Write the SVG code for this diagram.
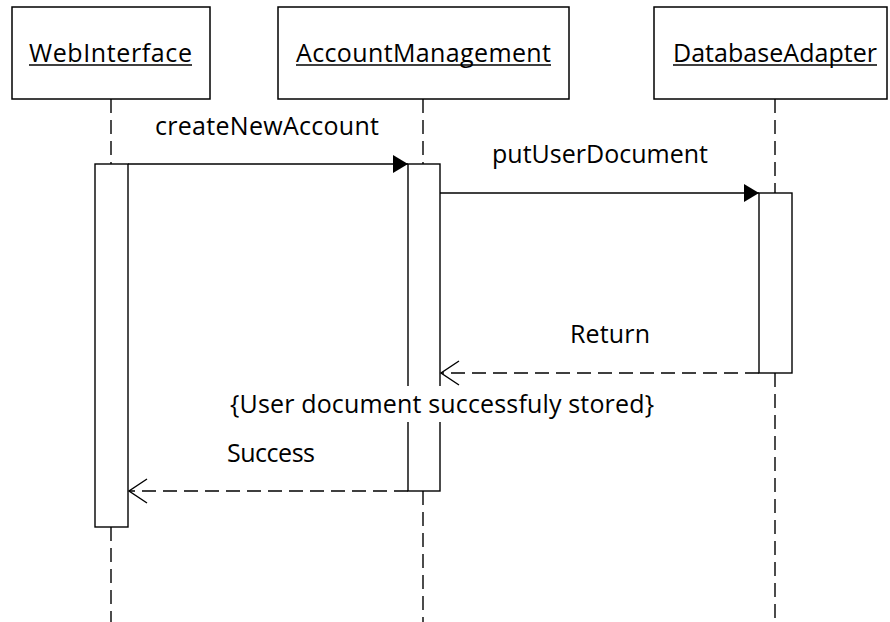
<svg xmlns="http://www.w3.org/2000/svg" width="890" height="622" viewBox="0 0 890 622">
<style>
.box{fill:#fff;stroke:#000;stroke-width:1.5}
.bar{fill:#fff;stroke:#000;stroke-width:1.4}
.life{stroke:#000;stroke-width:1.4;stroke-dasharray:14 7;fill:none}
.msg{stroke:#000;stroke-width:1.4;fill:none}
.ret{stroke:#000;stroke-width:1.4;fill:none;stroke-dasharray:14 7}
.ul{stroke:#000;stroke-width:1.5}
text{font-family:"Open Sans","Noto Sans","Liberation Sans",sans-serif;font-size:25px;fill:#000}
</style>
<defs>
<marker id="filled" markerUnits="userSpaceOnUse" markerWidth="16" markerHeight="20" refX="15" refY="9" orient="auto">
<path d="M0,0 L15,9 L0,18 Z" fill="#000"/>
</marker>
<marker id="open" markerUnits="userSpaceOnUse" markerWidth="22" markerHeight="28" refX="19" refY="13" orient="auto">
<path d="M1,1 L19,13 L1,25" fill="none" stroke="#000" stroke-width="1.4"/>
</marker>
</defs>
<rect width="890" height="622" fill="#fff"/>
<g id="lifelines">
<line class="life" x1="111" y1="99" x2="111" y2="164"/>
<line class="life" x1="111" y1="527" x2="111" y2="622"/>
<line class="life" x1="423" y1="99" x2="423" y2="164"/>
<line class="life" x1="423" y1="491" x2="423" y2="622"/>
<line class="life" x1="775" y1="99" x2="775" y2="193"/>
<line class="life" x1="775" y1="373" x2="775" y2="622"/>
</g>
<g id="WebInterface">
<rect class="box" x="12" y="7" width="198" height="92"/>
<text x="29" y="62" textLength="163">WebInterface</text>
<line class="ul" x1="29" y1="65" x2="192" y2="65"/>
<rect class="bar" x="95" y="164" width="33" height="363"/>
</g>
<g id="AccountManagement">
<rect class="box" x="278" y="7" width="291" height="92"/>
<text x="296" y="62" textLength="255">AccountManagement</text>
<line class="ul" x1="296" y1="65" x2="551" y2="65"/>
<rect class="bar" x="408" y="164" width="32" height="327"/>
</g>
<g id="DatabaseAdapter">
<rect class="box" x="654" y="7" width="233" height="92"/>
<text x="673" y="62" textLength="204">DatabaseAdapter</text>
<line class="ul" x1="673" y1="65" x2="877" y2="65"/>
<rect class="bar" x="759" y="193" width="33" height="180"/>
</g>
<g id="connectors">
<line class="msg" x1="128" y1="164" x2="408" y2="164" marker-end="url(#filled)"/>
<line class="msg" x1="440" y1="193" x2="759" y2="193" marker-end="url(#filled)"/>
<line class="ret" x1="759" y1="373" x2="441" y2="373" marker-end="url(#open)"/>
<line class="ret" x1="408" y1="491" x2="129" y2="491" marker-end="url(#open)"/>
</g>
<g id="labels">
<text x="155" y="135" textLength="224">createNewAccount</text>
<text x="492" y="163" textLength="216">putUserDocument</text>
<text x="570" y="343" textLength="80">Return</text>
<rect x="226" y="386" width="432" height="36" fill="#fff"/>
<text x="230" y="413" textLength="424">{User document successfuly stored}</text>
<text x="227" y="462" textLength="88">Success</text>
</g>
</svg>
